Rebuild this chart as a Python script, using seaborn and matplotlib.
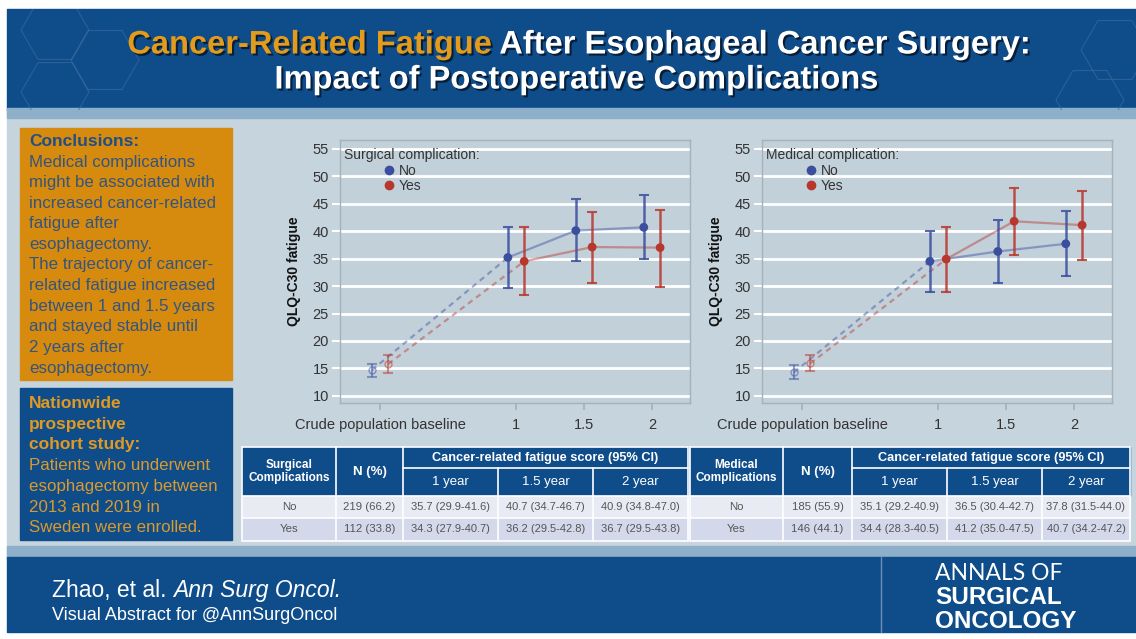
import numpy as np
import pandas as pd
import seaborn as sns
import matplotlib.pyplot as plt
from matplotlib.patches import Rectangle, RegularPolygon
from matplotlib.lines import Line2D
import matplotlib.patheffects as pe

# ---- data ----
time_labels = ['Crude population baseline', '1', '1.5', '2']
groups = ['No', 'Yes']

# surgical complication panel (estimate, lower, upper)
surg_no = [14.7, 35.2, 40.1, 40.7]
surg_no_lo = [13.5, 29.7, 34.5, 35.0]
surg_no_hi = [15.8, 40.7, 45.8, 46.5]
surg_yes = [15.8, 34.5, 37.1, 37.0]
surg_yes_lo = [14.1, 28.3, 30.6, 29.8]
surg_yes_hi = [17.5, 40.7, 43.5, 43.9]

# medical complication panel
med_no = [14.3, 34.5, 36.3, 37.7]
med_no_lo = [13.0, 28.9, 30.6, 31.8]
med_no_hi = [15.7, 40.0, 42.1, 43.6]
med_yes = [15.9, 34.9, 41.8, 41.1]
med_yes_lo = [14.5, 29.0, 35.6, 34.8]
med_yes_hi = [17.5, 40.7, 47.9, 47.4]

# tables
table_years = ['1 year', '1.5 year', '2 year']
surg_n = ['219 (66.2)', '112 (33.8)']
surg_scores = [['35.7 (29.9-41.6)', '40.7 (34.7-46.7)', '40.9 (34.8-47.0)'],
               ['34.3 (27.9-40.7)', '36.2 (29.5-42.8)', '36.7 (29.5-43.8)']]
med_n = ['185 (55.9)', '146 (44.1)']
med_scores = [['35.1 (29.2-40.9)', '36.5 (30.4-42.7)', '37.8 (31.5-44.0)'],
              ['34.4 (28.3-40.5)', '41.2 (35.0-47.5)', '40.7 (34.2-47.2)']]

# ---- colours ----
BLUE_DARK = '#0f4c8a'
ORANGE = '#d68a0e'
BG = '#c6d4de'
NO_C = '#3b4f9e'
YES_C = '#b8372c'
palette = {'No': NO_C, 'Yes': YES_C}

sns.set_theme(style='white')
plt.rcParams['font.family'] = ['Liberation Sans', 'DejaVu Sans']

W, H = 1136, 639
fig = plt.figure(figsize=(W / 100, H / 100), dpi=100)
fig.patch.set_facecolor('white')

# background axes in pixel units
bg = fig.add_axes([0, 0, 1, 1])
bg.set_xlim(0, W)
bg.set_ylim(H, 0)
bg.axis('off')

bg.add_patch(Rectangle((7, 108), W - 7, 452, color=BG, zorder=0))
bg.add_patch(Rectangle((7, 9), W - 7, 101, color=BLUE_DARK, zorder=1))
bg.add_patch(Rectangle((7, 108), W - 7, 10, color='#8eafca', zorder=1))
bg.add_patch(Rectangle((7, 546), W - 7, 12, color='#8eafca', zorder=1))
bg.add_patch(Rectangle((7, 557), W - 7, 75, color=BLUE_DARK, zorder=1))
bg.plot([881, 881], [557, 632], color='#6f8fb5', lw=1, zorder=2)

# faint hexagons in the header
hdr_clip = Rectangle((7, 9), W - 7, 101, transform=bg.transData)
for cx, cy in [(55, 30), (55, 92), (105, 60), (1115, 50), (1090, 100)]:
    hx = RegularPolygon((cx, cy), 6, radius=34, orientation=np.pi / 6,
                        fill=False, ec='#3f6ca2', lw=0.8, alpha=0.6, zorder=2)
    bg.add_patch(hx)
    hx.set_clip_path(hdr_clip)

# ---- title (two colours on the first line) ----
renderer = fig.canvas.get_renderer()
shadow = [pe.withSimplePatchShadow(offset=(1.5, -1.5), shadow_rgbFace='black', alpha=0.6)]
title_kw = dict(fontsize=23.5, fontweight='bold', va='center', zorder=3, path_effects=shadow)
t1 = bg.text(0, 45, 'Cancer-Related Fatigue', color='#e39b1c', **title_kw)
t2 = bg.text(0, 45, ' After Esophageal Cancer Surgery:', color='white', **title_kw)
w1 = t1.get_window_extent(renderer).width
w2 = t2.get_window_extent(renderer).width
x0 = 579 - (w1 + w2) / 2
t1.set_x(x0)
t2.set_x(x0 + w1)
bg.text(576, 80, 'Impact of Postoperative Complications', color='white',
        ha='center', **title_kw)

# ---- left boxes ----
bg.add_patch(Rectangle((20, 128), 212, 252, color=ORANGE, zorder=2))
bg.text(29, 141, 'Conclusions:', color='#1f4f86', fontsize=12.5, fontweight='bold',
        va='center', zorder=3)
concl = ['Medical complications', 'might be associated with', 'increased cancer-related',
         'fatigue after', 'esophagectomy.', 'The trajectory of cancer-',
         'related fatigue increased', 'between 1 and 1.5 years', 'and stayed stable until',
         '2 years after', 'esophagectomy.']
for i, line in enumerate(concl):
    bg.text(29, 162 + i * 20.6, line, color='#34557f', fontsize=12.2, va='center', zorder=3)

bg.add_patch(Rectangle((20, 388), 212, 152, color=BLUE_DARK, zorder=2))
for i, line in enumerate(['Nationwide', 'prospective', 'cohort study:']):
    bg.text(29, 404 + i * 20.5, line, color='#e09a22', fontsize=12.5, fontweight='bold',
            va='center', zorder=3)
for i, line in enumerate(['Patients who underwent', 'esophagectomy between',
                          '2013 and 2019 in', 'Sweden were enrolled.']):
    bg.text(29, 466 + i * 20.5, line, color='#d99a2e', fontsize=12.2, va='center', zorder=3)

# ---- footer ----
tz = bg.text(52, 590, 'Zhao, et al. ', color='white', fontsize=16.5, va='center', zorder=3)
wz = tz.get_window_extent(renderer).width
bg.text(52 + wz, 590, 'Ann Surg Oncol.', color='white', fontsize=16.5, style='italic',
        va='center', zorder=3)
bg.text(52, 615, 'Visual Abstract for @AnnSurgOncol', color='white', fontsize=13,
        va='center', zorder=3)
bg.text(935, 574, 'ANNALS OF', color='white', fontsize=16.5, family='Lato',
        va='center', zorder=3)
bg.text(935, 598, 'SURGICAL', color='white', fontsize=17.5, fontweight='bold',
        va='center', zorder=3)
bg.text(935, 621, 'ONCOLOGY', color='white', fontsize=17.5, fontweight='bold',
        va='center', zorder=3)


# ---- plots ----
x_pos = [0, 2, 3, 4]
dodge = 0.12


def draw_panel(rect, title, series):
    ax = fig.add_axes(rect)
    ax.set_facecolor('#c2d0da')
    rows = []
    for grp, (est, lo, hi) in series.items():
        off = -dodge if grp == 'No' else dodge
        xs = [p + off for p in x_pos]
        col = palette[grp]
        # lines: dashed from baseline, lighter solid afterwards
        ax.plot(xs[:2], est[:2], color=col, lw=1.6, ls=(0, (2.5, 2)), alpha=0.45, zorder=2)
        ax.plot(xs[1:], est[1:], color=col, lw=1.6, alpha=0.45, zorder=2)
        # baseline: faded open marker
        ax.errorbar(xs[0], est[0], yerr=[[est[0] - lo[0]], [hi[0] - est[0]]], fmt='o',
                    mfc='none', mec=col, ms=5, color=col, ecolor=col, elinewidth=1.5,
                    capsize=3.5, capthick=1.5, alpha=0.5, zorder=3)
        ax.errorbar(xs[1:], est[1:],
                    yerr=[np.subtract(est[1:], lo[1:]), np.subtract(hi[1:], est[1:])],
                    fmt='none', ecolor=col, elinewidth=1.8, capsize=3.5, capthick=1.5,
                    alpha=0.85, zorder=3)
        for x, y in zip(xs[1:], est[1:]):
            rows.append({'x': x, 'y': y, 'group': grp})
    df = pd.DataFrame(rows)
    sns.scatterplot(data=df, x='x', y='y', hue='group', palette=palette, s=40,
                    edgecolor='none', legend=False, ax=ax, zorder=4)

    ax.set_xlim(-0.59, 4.56)
    ax.set_ylim(8.7, 56.6)
    ax.set_yticks(range(10, 56, 5))
    ax.set_xticks(x_pos)
    ax.set_xticklabels(time_labels, fontsize=10.5, color='#333333')
    ax.tick_params(axis='y', labelsize=10.5, labelcolor='#333333', length=6,
                   color='white', width=1.5, left=True, pad=2)
    ax.tick_params(axis='x', length=5, color='#a7b1ba', bottom=True, pad=6)
    ax.grid(axis='y', color='white', lw=2)
    ax.set_axisbelow(True)
    for s in ax.spines.values():
        s.set_color('#a7b1ba')
        s.set_linewidth(1)
    ax.set_xlabel('')
    ax.set_ylabel('QLQ-C30 fatigue', fontsize=10, fontweight='bold', color='#111111',
                  labelpad=8)

    ax.text(0.012, 0.97, title, transform=ax.transAxes, fontsize=10, color='#333333',
            va='top', ha='left', zorder=5)
    handles = [Line2D([], [], marker='o', ls='none', color=palette[g], ms=6) for g in groups]
    ax.legend(handles, groups, loc='upper left', bbox_to_anchor=(0.1, 0.935),
              frameon=False, fontsize=10, handletextpad=0.2, labelspacing=0.05,
              borderpad=0, handlelength=1.0, labelcolor='#333333')
    return ax


draw_panel([340 / W, 1 - 403 / H, 350 / W, 263 / H], 'Surgical complication:',
           {'No': (surg_no, surg_no_lo, surg_no_hi),
            'Yes': (surg_yes, surg_yes_lo, surg_yes_hi)})
draw_panel([762 / W, 1 - 403 / H, 350 / W, 263 / H], 'Medical complication:',
           {'No': (med_no, med_no_lo, med_no_hi),
            'Yes': (med_yes, med_yes_lo, med_yes_hi)})


# ---- tables ----
def draw_table(cols, first_label, n_vals, scores):
    top, r1, r2, r3, r4 = 447, 468, 496, 518, 541
    c = cols
    lw = 1.2
    # header
    bg.add_patch(Rectangle((c[0], top), c[-1] - c[0], r2 - top, color=BLUE_DARK, zorder=2))
    bg.add_patch(Rectangle((c[0], r2), c[-1] - c[0], r3 - r2, color='#e8ebf4', zorder=2))
    bg.add_patch(Rectangle((c[0], r3), c[-1] - c[0], r4 - r3, color='#d3d9ea', zorder=2))
    # cell separators
    for x in c[1:-1]:
        y_start = r1 if x > c[2] else top
        bg.plot([x, x], [y_start, r4], color='white', lw=lw, zorder=3)
    bg.plot([c[2], c[-1]], [r1, r1], color='white', lw=lw, zorder=3)
    for y in [r2, r3]:
        bg.plot([c[0], c[-1]], [y, y], color='white', lw=lw, zorder=3)
    bg.add_patch(Rectangle((c[0], top), c[-1] - c[0], r4 - top, fill=False, ec='white',
                           lw=lw, zorder=3))
    # header text
    bg.text((c[0] + c[1]) / 2, (top + r2) / 2, first_label, color='white', fontsize=8.5,
            fontweight='bold', ha='center', va='center', zorder=4, linespacing=1.1)
    bg.text((c[1] + c[2]) / 2, (top + r2) / 2, 'N (%)', color='white', fontsize=9.5,
            fontweight='bold', ha='center', va='center', zorder=4)
    bg.text((c[2] + c[-1]) / 2, (top + r1) / 2, 'Cancer-related fatigue score (95% CI)',
            color='white', fontsize=9.2, fontweight='bold', ha='center', va='center', zorder=4)
    for j, yr in enumerate(table_years):
        bg.text((c[2 + j] + c[3 + j]) / 2, (r1 + r2) / 2, yr, color='white', fontsize=9.5,
                ha='center', va='center', zorder=4)
    # body
    for i, (ya, yb) in enumerate([(r2, r3), (r3, r4)]):
        ym = (ya + yb) / 2
        bg.text((c[0] + c[1]) / 2, ym, groups[i], color='#555555', fontsize=8.2,
                ha='center', va='center', zorder=4)
        bg.text((c[1] + c[2]) / 2, ym, n_vals[i], color='#555555', fontsize=8.2,
                ha='center', va='center', zorder=4)
        for j in range(3):
            bg.text((c[2 + j] + c[3 + j]) / 2, ym, scores[i][j], color='#555555',
                    fontsize=8.0, ha='center', va='center', zorder=4)


draw_table([242, 336, 403, 498, 593, 688], 'Surgical\nComplications', surg_n, surg_scores)
draw_table([690, 783, 852, 947, 1042, 1130], 'Medical\nComplications', med_n, med_scores)

fig.savefig('out.png', dpi=100, facecolor=fig.get_facecolor())
